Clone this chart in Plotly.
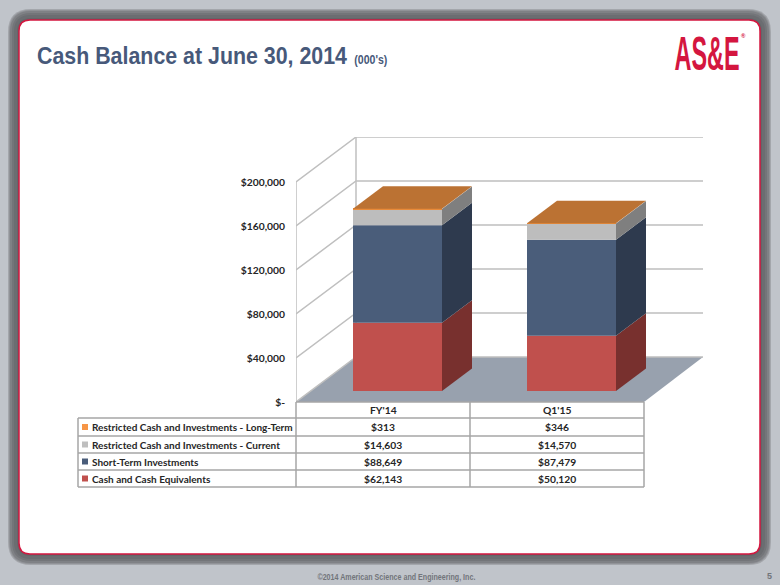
import plotly.graph_objects as go

periods = ["FY'14", "Q1'15"]
series_names = ["Cash and Cash Equivalents", "Short-Term Investments",
                "Restricted Cash and Investments - Current",
                "Restricted Cash and Investments - Long-Term"]
cash = [62143, 50120]
short_term = [88649, 87479]
restricted_current = [14603, 14570]
restricted_long = [313, 346]
tick_values = [0, 40000, 80000, 120000, 160000, 200000]

all_series = [cash, short_term, restricted_current, restricted_long]
front_colors = ["#C0504D", "#4A5D7A", "#BDBDBD", "#E98B3A"]
side_colors = ["#78302E", "#2E3A4E", "#7F7F7F", "#8A5A30"]
swatch_colors = ["#C0504D", "#4A5D7A", "#BFBFBF", "#F79646"]
top_color = "#BB7233"

W, H = 780, 585
PX_X, PX_Y = 174.0, 0.0011  # px per category, px per value unit
LEFT, BASE, RIGHT, TOP = 296, 402, 703, 137
x_min = -0.5
x_max = (RIGHT - LEFT) / PX_X - 0.5
y_max = (BASE - TOP) / PX_Y
wall_dx, wall_dy = 60 / PX_X, 45 / PX_Y
bar_dx, bar_dy = 30 / PX_X, 22.5 / PX_Y
bar_lift = 11 / PX_Y
bar_offset, bar_width = -30 / PX_X, 89 / PX_X
floor_right = x_min + 2


def px(v):
    return v / W


def py(v):
    return 1 - v / H


def rrect(x0, y0, x1, y1, r):
    a, b, c, d = px(x0), py(y0), px(x1), py(y1)
    rx, ry = r / W, r / H
    return (f"M{a + rx},{b} L{c - rx},{b} Q{c},{b} {c},{b - ry} L{c},{d + ry} Q{c},{d} {c - rx},{d} "
            f"L{a + rx},{d} Q{a},{d} {a},{d + ry} L{a},{b - ry} Q{a},{b} {a + rx},{b} Z")


shapes = []
# slide frame and soft shadow
for grow, col in [(11, "#A3A6AB"), (10, "#909297"), (9, "#7F8185"), (7, "#737579"),
                  (5, "#6B6D71"), (2, "#646669")]:
    shapes.append(dict(type="path", path=rrect(19 - grow, 20 - grow, 760 + grow, 554 + grow, 12 + grow),
                       xref="paper", yref="paper", fillcolor=col, line_width=0, layer="below"))
shapes.append(dict(type="path", path=rrect(19, 20, 760, 554, 11), xref="paper", yref="paper",
                   fillcolor="white", line=dict(color="#D4163F", width=1.5), layer="below"))

# floor
shapes.append(dict(type="path", xref="x", yref="y", fillcolor="#98A1AE", line_width=0, layer="below",
                   path=f"M{x_min},0 L{x_min + wall_dx},{wall_dy} L{x_max},{wall_dy} L{floor_right},0 Z"))
GRID = "#BFBFBF"
# walls
for v in tick_values:
    shapes.append(dict(type="path", xref="x", yref="y", line=dict(color=GRID, width=1.5), layer="below",
                       path=f"M{x_min},{v} L{x_min + wall_dx},{v + wall_dy} L{x_max},{v + wall_dy}"))
shapes.append(dict(type="line", xref="x", yref="y", x0=x_min, x1=x_min, y0=0, y1=tick_values[-1],
                   line=dict(color=GRID, width=1.5), layer="below"))
shapes.append(dict(type="line", xref="x", yref="y", x0=x_min + wall_dx, x1=x_min + wall_dx, y0=wall_dy,
                   y1=tick_values[-1] + wall_dy, line=dict(color=GRID, width=1.5), layer="below"))

fig = go.Figure()
# stacked front faces, with 3-D side and top faces
bases = [bar_lift for _ in periods]
for name, vals, fc, sc in zip(series_names, all_series, front_colors, side_colors):
    fig.add_trace(go.Bar(x=list(range(len(periods))), y=vals, base=list(bases), width=bar_width,
                         offset=bar_offset, marker=dict(color=fc, line_width=0), name=name,
                         showlegend=False, hoverinfo="skip"))
    for i, v in enumerate(vals):
        xr = i + bar_offset + bar_width
        b = bases[i]
        fig.add_trace(go.Scatter(x=[xr, xr + bar_dx, xr + bar_dx, xr, xr],
                                 y=[b, b + bar_dy, b + v + bar_dy, b + v, b],
                                 mode="lines", fill="toself", fillcolor=sc, line=dict(width=0, color=sc),
                                 showlegend=False, hoverinfo="skip"))
    bases = [b + v for b, v in zip(bases, vals)]
for i, t in enumerate(bases):
    xl = i + bar_offset
    xr = xl + bar_width
    fig.add_trace(go.Scatter(x=[xl, xl + bar_dx, xr + bar_dx, xr, xl],
                             y=[t, t + bar_dy, t + bar_dy, t, t],
                             mode="lines", fill="toself", fillcolor=top_color,
                             line=dict(width=0, color=top_color), showlegend=False, hoverinfo="skip"))

# data table
LINE = "#A6A6A6"
col_x = [78, 296, 470, 644]
row_y = [418, 436, 453, 470, 487]
shapes.append(dict(type="line", xref="paper", yref="paper", x0=px(296), x1=px(644), y0=py(402), y1=py(402),
                   line=dict(color=LINE, width=1.5)))
for yy in row_y:
    shapes.append(dict(type="line", xref="paper", yref="paper", x0=px(78), x1=px(644), y0=py(yy), y1=py(yy),
                       line=dict(color=LINE, width=1.5)))
for xx in col_x:
    top = 418 if xx == 78 else 402
    shapes.append(dict(type="line", xref="paper", yref="paper", x0=px(xx), x1=px(xx), y0=py(top), y1=py(487),
                       line=dict(color=LINE, width=1.5)))

TEXT = "#262626"
FONT = "Lato"
ann = []


def label(x, y, text, size=10.3, color=TEXT, anchor="center", family=FONT, bold=True):
    ann.append(dict(xref="paper", yref="paper", x=px(x), y=py(y), text=f"<b>{text}</b>" if bold else text,
                    showarrow=False, xanchor=anchor, yanchor="middle",
                    font=dict(family=family, size=size, color=color)))


for i, p in enumerate(periods):
    label((col_x[i + 1] + col_x[i + 2]) / 2, 410.5, p)
for r, s in enumerate(reversed(range(len(series_names)))):
    yc = (row_y[r] + row_y[r + 1]) / 2
    shapes.append(dict(type="rect", xref="paper", yref="paper", x0=px(82), x1=px(88), y0=py(yc - 3), y1=py(yc + 3),
                       fillcolor=swatch_colors[s], line_width=0))
    label(90, yc, series_names[s], anchor="left", size=10)
    for i in range(len(periods)):
        label((col_x[i + 1] + col_x[i + 2]) / 2, yc, f"${all_series[s][i]:,}")

# logo, footer, subtitle
label(706.5, 53, "AS&E", size=49, color="#D4163F", family="Liberation Sans")
label(743, 36, "®", size=6, color="#D4163F", family="Liberation Sans")
label(370.5, 60, "(000's)", size=12, color="#47597A", family="Liberation Sans")
label(396, 576.5, "©2014 American Science and Engineering, Inc.", size=8.5, color="#72757A", family="Liberation Sans")
label(769, 576, "5", size=9, color="#72757A", family="Liberation Sans")

fig.update_layout(
    width=W, height=H, margin=dict(l=0, r=0, t=0, b=0, pad=0, autoexpand=False),
    paper_bgcolor="#C0C4CA", plot_bgcolor="rgba(0,0,0,0)",
    barmode="overlay", shapes=shapes, annotations=ann, showlegend=False,
    title=dict(text="<b>Cash Balance at June 30, 2014</b>",
               x=37 / W, xanchor="left", y=py(56), yanchor="middle",
               font=dict(family="Liberation Sans", size=24, color="#47597A")),
    xaxis=dict(domain=[px(LEFT), px(RIGHT)], range=[x_min, x_max], visible=False, fixedrange=True, automargin=False),
    yaxis=dict(domain=[py(BASE), py(TOP)], range=[0, y_max], showgrid=False, zeroline=False, showline=False,
               tickmode="array", tickvals=tick_values, automargin=False,
               ticktext=[f"${v:,}" if v else "$-" for v in tick_values], ticks="", ticklabelstandoff=10,
               tickfont=dict(family=FONT, size=10.3, color=TEXT, weight="bold"), fixedrange=True),
)
post = """
document.documentElement.style.cssText = 'margin:0;padding:0;height:585px;overflow:hidden;background:#C0C4CA';
document.body.style.cssText = 'margin:0;padding:0;height:585px;overflow:hidden';
const fit = {'AS&E': 65, 'Cash Balance at June 30, 2014': 310,
             '(000\\'s)': 33, '©2014 American Science and Engineering, Inc.': 158};
document.querySelectorAll('svg text').forEach(t => {
  const w = fit[t.textContent];
  if (w) { t.setAttribute('textLength', w); t.setAttribute('lengthAdjust', 'spacingAndGlyphs'); }
});
"""
fig.write_html("out.html", config=dict(displayModeBar=False), post_script=post)
